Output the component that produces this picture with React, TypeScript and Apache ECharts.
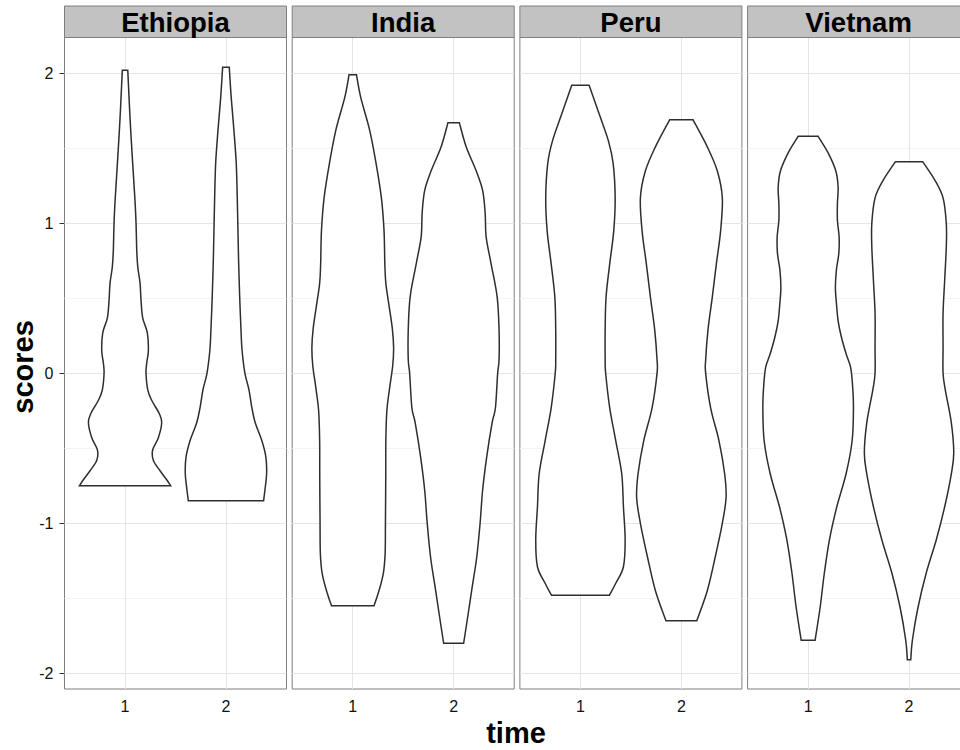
import React, { useEffect, useRef } from "react";
import * as echarts from "echarts";

const countries = ["Ethiopia", "India", "Peru", "Vietnam"];
const times = [1, 2];
const yTicks = [-2, -1, 0, 1, 2];
const yMinorTicks = [-1.5, -0.5, 0.5, 1.5];

// Violin outlines: [score, half-width in "time" units], from the top (max score) down to the bottom (min score)
const ethiopiaT1 = [
  [2.02, 0.027], [1.62, 0.056], [1.17, 0.097], [1.0, 0.109], [0.82, 0.116], [0.71, 0.126],
  [0.6, 0.149], [0.49, 0.158], [0.37, 0.175], [0.27, 0.221], [0.15, 0.231], [0.07, 0.215],
  [0.0, 0.208], [-0.11, 0.225], [-0.18, 0.264], [-0.27, 0.34], [-0.33, 0.363], [-0.43, 0.33],
  [-0.51, 0.274], [-0.58, 0.28], [-0.65, 0.347], [-0.71, 0.413], [-0.75, 0.452],
];
const ethiopiaT2 = [
  [2.04, 0.033], [1.84, 0.052], [1.62, 0.079], [1.4, 0.102], [1.17, 0.112], [0.95, 0.119],
  [0.73, 0.126], [0.51, 0.136], [0.29, 0.149], [0.15, 0.16], [0.0, 0.188], [-0.11, 0.228],
  [-0.23, 0.257], [-0.33, 0.29], [-0.45, 0.356], [-0.56, 0.396], [-0.67, 0.403], [-0.78, 0.386],
  [-0.85, 0.373],
];
const indiaT1 = [
  [1.99, 0.037], [1.84, 0.079], [1.62, 0.168], [1.4, 0.231], [1.17, 0.284], [0.95, 0.31],
  [0.73, 0.318], [0.6, 0.328], [0.45, 0.36], [0.3, 0.392], [0.17, 0.405], [0.05, 0.396],
  [-0.1, 0.365], [-0.25, 0.338], [-0.45, 0.328], [-0.7, 0.327], [-1.0, 0.324], [-1.2, 0.321],
  [-1.33, 0.304], [-1.45, 0.26], [-1.55, 0.211],
];
const indiaT2 = [
  [1.67, 0.057], [1.51, 0.124], [1.35, 0.223], [1.22, 0.287], [1.07, 0.312], [0.91, 0.322],
  [0.73, 0.371], [0.51, 0.431], [0.29, 0.45], [0.09, 0.45], [0.0, 0.436], [-0.23, 0.414],
  [-0.33, 0.381], [-0.56, 0.327], [-0.78, 0.287], [-1.0, 0.262], [-1.23, 0.228], [-1.45, 0.178],
  [-1.67, 0.129], [-1.8, 0.099],
];
const peruT1 = [
  [1.92, 0.086], [1.73, 0.185], [1.55, 0.277], [1.4, 0.324], [1.17, 0.344], [0.95, 0.33],
  [0.73, 0.29], [0.51, 0.254], [0.29, 0.245], [0.09, 0.245], [0.0, 0.25], [-0.23, 0.29],
  [-0.45, 0.35], [-0.67, 0.409], [-0.89, 0.426], [-1.11, 0.443], [-1.29, 0.426], [-1.4, 0.35],
  [-1.48, 0.287],
];
const peruT2 = [
  [1.69, 0.116], [1.51, 0.257], [1.35, 0.356], [1.17, 0.406], [0.95, 0.389], [0.73, 0.347],
  [0.51, 0.307], [0.29, 0.264], [0.09, 0.241], [0.0, 0.241], [-0.23, 0.29], [-0.45, 0.373],
  [-0.67, 0.429], [-0.83, 0.443], [-1.0, 0.406], [-1.23, 0.334], [-1.45, 0.257], [-1.65, 0.153],
];
const vietnamT1 = [
  [1.58, 0.099], [1.47, 0.198], [1.35, 0.274], [1.24, 0.297], [1.13, 0.29], [1.02, 0.29],
  [0.91, 0.307], [0.8, 0.304], [0.69, 0.28], [0.57, 0.27], [0.47, 0.28], [0.35, 0.297],
  [0.24, 0.33], [0.13, 0.376], [0.04, 0.421], [-0.08, 0.44], [-0.23, 0.449], [-0.45, 0.436],
  [-0.67, 0.376], [-0.89, 0.284], [-1.11, 0.211], [-1.33, 0.161], [-1.56, 0.119], [-1.78, 0.069],
];
const vietnamT2 = [
  [1.41, 0.136], [1.29, 0.254], [1.17, 0.337], [1.0, 0.369], [0.84, 0.369], [0.62, 0.353],
  [0.4, 0.337], [0.17, 0.337], [0.0, 0.337], [-0.11, 0.359], [-0.33, 0.419], [-0.53, 0.443],
  [-0.67, 0.419], [-0.89, 0.353], [-1.11, 0.27], [-1.33, 0.171], [-1.56, 0.089], [-1.78, 0.033],
  [-1.91, 0.017],
];

const violins: Record<string, number[][][]> = {
  Ethiopia: [ethiopiaT1, ethiopiaT2],
  India: [indiaT1, indiaT2],
  Peru: [peruT1, peruT2],
  Vietnam: [vietnamT1, vietnamT2],
};

const FONT = '"Liberation Sans", Arial, Helvetica, sans-serif';
const CHART_W = 960;
const PANEL_LEFT = 64.5;
const PANEL_STEP = 227.7;
const PANEL_W = 222;
const PANEL_TOP = 37.5;
const PANEL_H = 651.5;
const STRIP_TOP = 6;

function curve(pts: number[][]): string {
  let d = "";
  const n = pts.length;
  for (let i = 0; i < n - 1; i++) {
    const p0 = pts[Math.max(i - 1, 0)];
    const p1 = pts[i];
    const p2 = pts[i + 1];
    const p3 = pts[Math.min(i + 2, n - 1)];
    const c1x = p1[0] + (p2[0] - p0[0]) / 6;
    const c1y = p1[1] + (p2[1] - p0[1]) / 6;
    const c2x = p2[0] - (p3[0] - p1[0]) / 6;
    const c2y = p2[1] - (p3[1] - p1[1]) / 6;
    d += ` C${c1x.toFixed(2)},${c1y.toFixed(2)} ${c2x.toFixed(2)},${c2y.toFixed(2)} ${p2[0].toFixed(2)},${p2[1].toFixed(2)}`;
  }
  return d;
}

export default function App() {
  const ref = useRef<HTMLDivElement>(null);

  useEffect(() => {
    if (!ref.current) return;
    const chart = echarts.init(ref.current, null, { renderer: "svg" });

    const grids: any[] = [];
    const xAxes: any[] = [];
    const yAxes: any[] = [];
    const series: any[] = [];
    const graphics: any[] = [];

    countries.forEach((c, i) => {
      const left = PANEL_LEFT + i * PANEL_STEP;
      grids.push({
        left,
        right: CHART_W - left - PANEL_W,
        top: PANEL_TOP,
        height: PANEL_H,
        show: true,
        backgroundColor: "#ffffff",
        borderColor: "#7f7f7f",
        borderWidth: 1,
        containLabel: false,
        outerBoundsMode: "none",
      });
      xAxes.push({
        type: "value",
        gridIndex: i,
        min: 0.4,
        max: 2.6,
        axisLine: { show: false },
        splitLine: { show: false },
        axisTick: { show: true, length: 5, customValues: times, lineStyle: { color: "#333333", width: 1 } },
        axisLabel: {
          show: true,
          customValues: times,
          margin: 9,
          color: "#111111",
          fontSize: 16,
          fontFamily: FONT,
        },
      });
      yAxes.push({
        type: "value",
        gridIndex: i,
        min: -2.105,
        max: 2.239,
        axisLine: { show: false },
        splitLine: { show: false },
        axisTick: { show: i === 0, length: 5, customValues: yTicks, lineStyle: { color: "#333333", width: 1 } },
        axisLabel: {
          show: i === 0,
          customValues: yTicks,
          margin: 11,
          color: "#111111",
          fontSize: 16,
          fontFamily: FONT,
        },
      });
      series.push({
        type: "custom",
        name: c,
        xAxisIndex: i,
        yAxisIndex: i,
        z: 3,
        silent: true,
        data: times.map((t) => [t]),
        renderItem: (params: any, api: any) => {
          const t = api.value(0);
          const prof = violins[c][params.dataIndex];
          const right = prof.map(([s, w]) => api.coord([t + w, s]));
          const leftPts = prof.map(([s, w]) => api.coord([t - w, s])).reverse();
          let d = `M${leftPts[leftPts.length - 1][0].toFixed(2)},${leftPts[leftPts.length - 1][1].toFixed(2)}`;
          d += ` L${right[0][0].toFixed(2)},${right[0][1].toFixed(2)}`;
          d += curve(right);
          d += ` L${leftPts[0][0].toFixed(2)},${leftPts[0][1].toFixed(2)}`;
          d += curve(leftPts);
          d += " Z";
          return {
            type: "path",
            shape: { pathData: d },
            style: { fill: "#ffffff", stroke: "#2e2e2e", lineWidth: 1.5 },
          };
        },
        markLine: {
          silent: true,
          symbol: "none",
          z: 1,
          animation: false,
          label: { show: false },
          emphasis: { disabled: true },
          data: [
            ...yMinorTicks.map((v) => ({ yAxis: v, lineStyle: { color: "#f3f3f3", width: 1, type: "solid" } })),
            ...yTicks.map((v) => ({ yAxis: v, lineStyle: { color: "#e5e5e5", width: 1, type: "solid" } })),
            ...times.map((v) => ({ xAxis: v, lineStyle: { color: "#e5e5e5", width: 1, type: "solid" } })),
          ],
        },
      });
      graphics.push({
        type: "rect",
        shape: { x: left, y: STRIP_TOP, width: PANEL_W, height: PANEL_TOP - STRIP_TOP },
        style: { fill: "#c2c2c2", stroke: "#7f7f7f", lineWidth: 1 },
        z: 10,
      });
      graphics.push({
        type: "text",
        x: left + PANEL_W / 2,
        y: 22,
        z: 11,
        style: {
          text: c,
          fill: "#000000",
          fontSize: 27.5,
          fontWeight: "bold",
          fontFamily: FONT,
          align: "center",
          verticalAlign: "middle",
        },
      });
    });

    graphics.push({
      type: "text",
      x: 516,
      y: 733,
      style: {
        text: "time",
        fill: "#000000",
        fontSize: 29,
        fontWeight: "bold",
        fontFamily: FONT,
        align: "center",
        verticalAlign: "middle",
      },
    });
    graphics.push({
      type: "text",
      x: 23,
      y: 367,
      rotation: Math.PI / 2,
      style: {
        text: "scores",
        fill: "#000000",
        fontSize: 29,
        fontWeight: "bold",
        fontFamily: FONT,
        align: "center",
        verticalAlign: "middle",
      },
    });

    chart.setOption({
      animation: false,
      backgroundColor: "#ffffff",
      grid: grids,
      xAxis: xAxes,
      yAxis: yAxes,
      series,
      graphic: graphics,
    });

    return () => chart.dispose();
  }, []);

  return (
    <div
      ref={ref}
      style={{ position: "fixed", left: 0, top: 0, width: CHART_W, height: 750 }}
    />
  );
}
